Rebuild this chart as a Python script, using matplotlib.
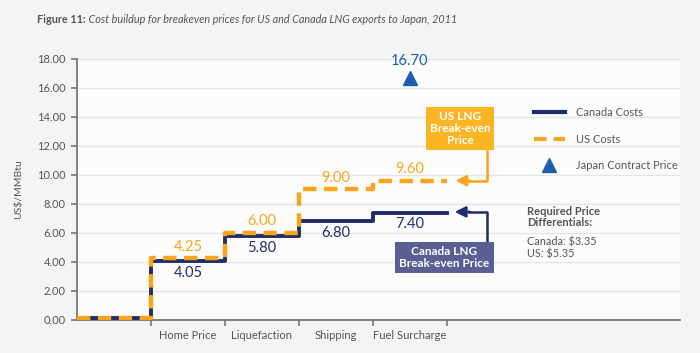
import matplotlib.pyplot as plt
from matplotlib.lines import Line2D

plt.rcParams['font.family'] = ['Lato', 'DejaVu Sans']

# data
stages = ['Home Price', 'Liquefaction', 'Shipping', 'Fuel Surcharge']
canada_costs = [0.15, 4.05, 5.80, 6.80, 7.40]
us_costs = [0.15, 4.25, 6.00, 9.00, 9.60]
japan_price = 16.70
canada_diff = 3.35
us_diff = 5.35

navy = '#1f2d6a'
orange = '#f9a51b'
blue = '#1b5ea9'
grey = '#555555'
us_dash = (3.0, 1.7)

fig = plt.figure(figsize=(7, 3.53), dpi=100, facecolor='#f3f4f4')
ax = fig.add_axes([0.11, 0.0935, 0.861, 0.74])
ax.set_facecolor('#fcfcfc')

# step lines: x edges 0..5
edges = list(range(len(canada_costs) + 1))
ax.step(edges, canada_costs + [canada_costs[-1]], where='post', color=navy, lw=2.8, zorder=3)
ax.step(edges, us_costs + [us_costs[-1]], where='post', color=orange, lw=3.2,
        dashes=us_dash, zorder=4)

# value labels
for i, (c, u) in enumerate(zip(canada_costs[1:], us_costs[1:])):
    xc = i + 1.5
    ax.annotate(f'{u:.2f}', (xc, u), xytext=(0, 8.5), textcoords='offset points',
                ha='center', va='center', color=orange, fontsize=10.5)
    ax.annotate(f'{c:.2f}', (xc, c), xytext=(0, -8.5), textcoords='offset points',
                ha='center', va='center', color=navy, fontsize=10.5)

# Japan contract price
ax.plot([4.5], [japan_price], marker='^', color=blue, markersize=10, ls='none', zorder=5)
ax.annotate(f'{japan_price:.2f}', (4.5, japan_price), xytext=(0, 12), textcoords='offset points',
            ha='center', va='center', color=blue, fontsize=10.5, annotation_clip=False)

# axes styling
ax.set_xlim(0, 8.15)
ax.set_ylim(0, 18)
ax.set_yticks(range(0, 19, 2))
ax.set_yticklabels([f'{v:.2f}' for v in range(0, 19, 2)])
ax.set_xticks([1, 2, 3, 4, 5])
ax.set_xticklabels([])
ax.set_xticks([i + 1.5 for i in range(len(stages))], minor=True)
ax.set_xticklabels(stages, minor=True)
ax.tick_params(axis='x', which='minor', length=0, pad=7, labelsize=8, labelcolor=grey)
ax.tick_params(axis='x', which='major', length=4, color='#777777', width=1.2)
ax.tick_params(axis='y', length=4, color='#777777', width=1.2, labelsize=8, labelcolor=grey, pad=4)
ax.grid(axis='y', color='#e4e4e4', lw=1)
ax.set_axisbelow(True)
for s in ['top', 'right']:
    ax.spines[s].set_visible(False)
for s in ['left', 'bottom']:
    ax.spines[s].set_color('#777777')
    ax.spines[s].set_linewidth(1.3)
ax.set_ylabel('US$/MMBtu', fontsize=7.5, color=grey, labelpad=10)

# US break-even callout
ax.text(5.18, 13.17, 'US LNG\nBreak-even\nPrice', ha='center', va='center', color='white',
        fontsize=8.5, fontweight='bold', linespacing=1.1, zorder=6,
        bbox=dict(boxstyle='square,pad=0.35', fc='#fbb523', ec='none'))
ax.plot([5.55, 5.55, 5.3], [11.66, us_costs[-1], us_costs[-1]], color=orange, lw=1.8, zorder=5)
ax.annotate('', xy=(5.08, us_costs[-1]), xytext=(5.35, us_costs[-1]),
            arrowprops=dict(arrowstyle='-|>', color=orange, lw=1.8, mutation_scale=16))

# Canada break-even callout
ax.text(4.97, 4.31, 'Canada LNG\nBreak-even Price', ha='center', va='center', color='white',
        fontsize=8.5, fontweight='bold', linespacing=1.1, zorder=6,
        bbox=dict(boxstyle='square,pad=0.35', fc='#5b5e92', ec='none'))
ax.plot([5.54, 5.54, 5.3], [5.38, canada_costs[-1] + 0.05, canada_costs[-1] + 0.05],
        color=navy, lw=1.8, zorder=5)
ax.annotate('', xy=(5.07, canada_costs[-1] + 0.05), xytext=(5.35, canada_costs[-1] + 0.05),
            arrowprops=dict(arrowstyle='-|>', color=navy, lw=1.8, mutation_scale=16))

# legend
handles = [Line2D([], [], color=navy, lw=3),
           Line2D([], [], color=orange, lw=3, dashes=us_dash),
           Line2D([], [], color=blue, marker='^', ls='none', markersize=10)]
leg = ax.legend(handles, ['Canada Costs', 'US Costs', 'Japan Contract Price'],
                loc='upper left', bbox_to_anchor=(0.741, 0.853), frameon=False,
                fontsize=8, labelcolor=grey, handlelength=2.8, handletextpad=1.0,
                labelspacing=1.4)

# required differentials
ax.text(6.09, 7.85, 'Required Price\nDifferentials:', ha='left', va='top', color=grey,
        fontsize=8, fontweight='bold', linespacing=1.0)
ax.text(6.09, 5.75, f'Canada: ${canada_diff:.2f}\nUS: ${us_diff:.2f}', ha='left', va='top',
        color=grey, fontsize=7.8, linespacing=1.1)

# title
t1 = fig.text(0.053, 0.946, 'Figure 11:', ha='left', va='center', fontsize=7.8,
              fontweight='bold', color=grey)
ax.annotate(' Cost buildup for breakeven prices for US and Canada LNG exports to Japan, 2011',
            xy=(1, 0.5), xycoords=t1, ha='left', va='center', fontsize=7.8,
            style='italic', color=grey)

fig.savefig('out.png', dpi=100, facecolor=fig.get_facecolor())
